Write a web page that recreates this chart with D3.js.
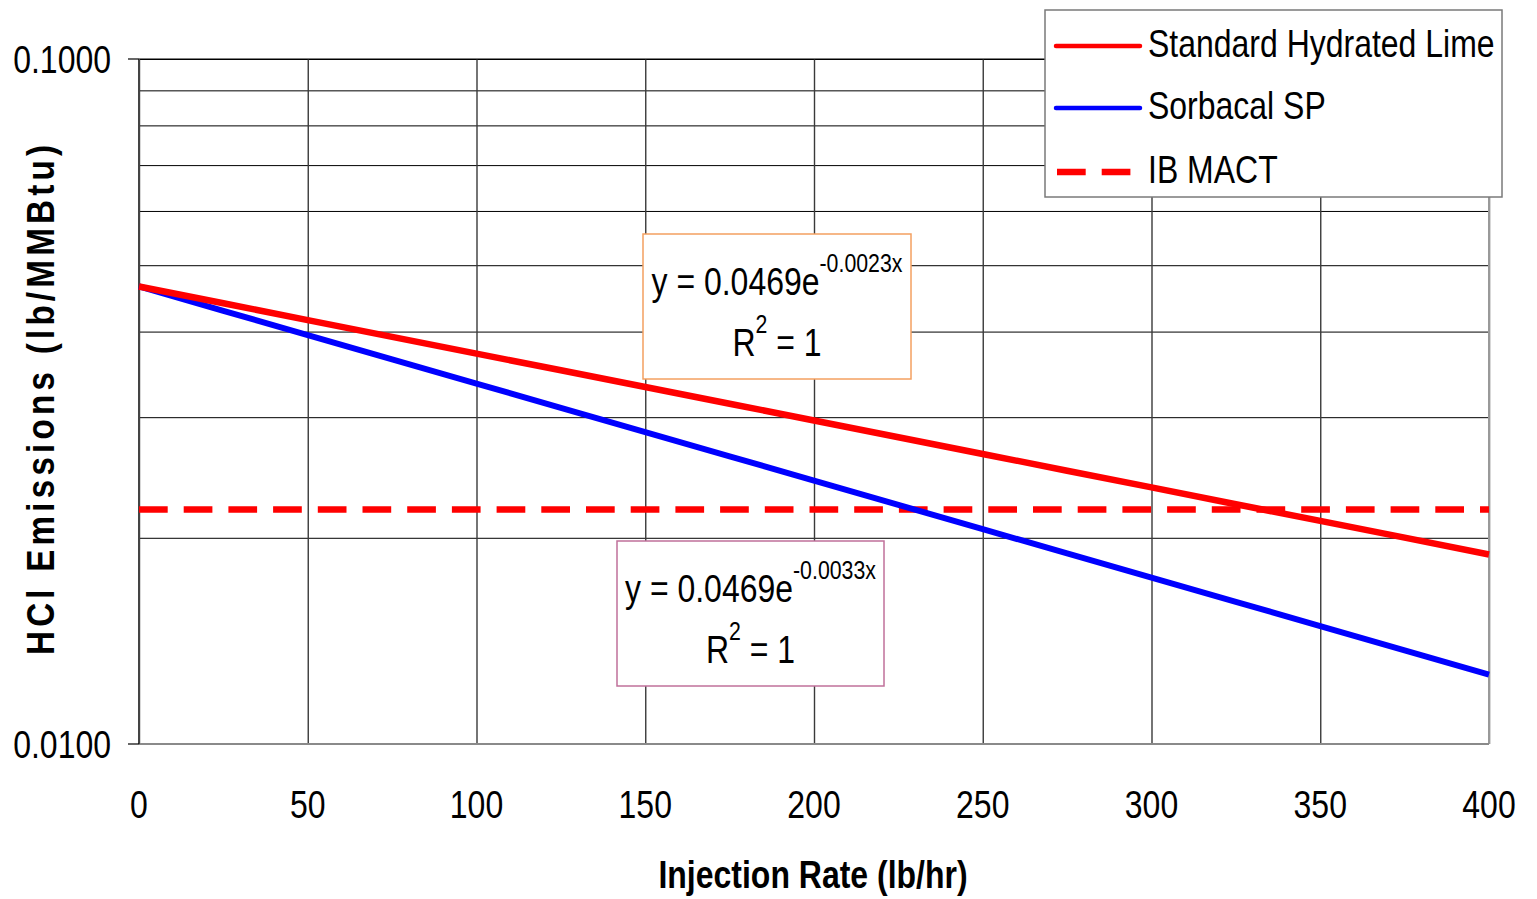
<!DOCTYPE html>
<html>
<head>
<meta charset="utf-8">
<script src="https://cdn.jsdelivr.net/npm/d3@7"></script>
<style>
  body { margin: 0; background: #fff; }
  svg { display: block; font-family: "Liberation Sans", Arial, sans-serif; }
</style>
</head>
<body>
<script>
// --- data ---
const injectionRate = [0, 25, 50, 75, 100, 125, 150, 175, 200, 225, 250, 275, 300, 325, 350, 375, 400];
const hydratedLime = [0.04655, 0.04400, 0.04157, 0.03930, 0.03715, 0.03512, 0.03320, 0.03139, 0.02967,
                      0.02804, 0.02651, 0.02506, 0.02369, 0.02239, 0.02117, 0.02001, 0.01891];
const sorbacalSP = [0.04655, 0.04289, 0.03954, 0.03644, 0.03359, 0.03096, 0.02853, 0.02630, 0.02424,
                    0.02234, 0.02059, 0.01898, 0.01750, 0.01613, 0.01486, 0.01370, 0.01263];
const ibMact = 0.022;
const xTicks = [0, 50, 100, 150, 200, 250, 300, 350, 400];
const yGridValues = [0.01, 0.02, 0.03, 0.04, 0.05, 0.06, 0.07, 0.08, 0.09, 0.1];
const yLabelValues = [0.01, 0.1];
const legendNames = ["Standard Hydrated Lime", "Sorbacal SP", "IB MACT"];

// --- SVG setup ---
const width = 1537, height = 899;
const margin = { top: 59, right: 48, bottom: 155, left: 139 };
const plotW = width - margin.left - margin.right;
const plotH = height - margin.top - margin.bottom;
const narrow = 0.82; // condensed look of the original font
const dash = "28.7,16";

const svg = d3.select("body").append("svg")
  .attr("width", width)
  .attr("height", height);

const plot = svg.append("g")
  .attr("transform", `translate(${margin.left},${margin.top})`);

const x = d3.scaleLinear().domain([0, 400]).range([0, plotW]);
const y = d3.scaleLog().domain([0.01, 0.1]).range([plotH, 0]);

// text with a narrow horizontal scale
function label(parent, px, py, str, size, anchor, weight) {
  return parent.append("g")
    .attr("transform", `translate(${px},${py}) scale(${narrow},1)`)
    .append("text")
    .attr("text-anchor", anchor || "start")
    .attr("font-size", size)
    .attr("font-weight", weight || "normal")
    .attr("fill", "#000")
    .text(str);
}

// gridlines
plot.append("g")
  .call(d3.axisLeft(y).tickValues(yGridValues).tickSize(-plotW).tickFormat(""))
  .call(g => g.select(".domain").remove())
  .call(g => g.selectAll("line").attr("stroke", "#000").attr("stroke-width", 1));

plot.append("g")
  .attr("transform", `translate(0,${plotH})`)
  .call(d3.axisBottom(x).tickValues(xTicks).tickSize(plotH).tickFormat(""))
  .call(g => g.select(".domain").remove())
  .call(g => g.selectAll("line").attr("transform", `translate(0,${-plotH})`)
    .attr("y1", 0).attr("y2", plotH)
    .attr("stroke", "#3a3a3a").attr("stroke-width", 1.4));

// frame
plot.append("line").attr("x1", 0).attr("x2", plotW).attr("y1", 0).attr("y2", 0)
  .attr("stroke", "#000").attr("stroke-width", 1);
plot.append("line").attr("x1", plotW).attr("x2", plotW).attr("y1", 0).attr("y2", plotH)
  .attr("stroke", "#999").attr("stroke-width", 2);
plot.append("line").attr("x1", 0).attr("x2", plotW).attr("y1", plotH).attr("y2", plotH)
  .attr("stroke", "#8a8a8a").attr("stroke-width", 2);
plot.append("line").attr("x1", 0).attr("x2", 0).attr("y1", 0).attr("y2", plotH)
  .attr("stroke", "#444").attr("stroke-width", 2);

// y ticks (only decades)
plot.selectAll(".ytick").data(yLabelValues).enter().append("line")
  .attr("x1", -11).attr("x2", 0)
  .attr("y1", d => y(d)).attr("y2", d => y(d))
  .attr("stroke", "#000").attr("stroke-width", 1.2);

// MACT limit
plot.append("line")
  .attr("x1", x(0)).attr("x2", x(400))
  .attr("y1", y(ibMact)).attr("y2", y(ibMact))
  .attr("stroke", "#ff0000").attr("stroke-width", 6.5)
  .attr("stroke-dasharray", dash);

// series
const line = d3.line().x(d => x(d[0])).y(d => y(d[1]));
plot.append("path")
  .datum(injectionRate.map((r, i) => [r, sorbacalSP[i]]))
  .attr("d", line).attr("fill", "none")
  .attr("stroke", "#0000ff").attr("stroke-width", 6);
plot.append("path")
  .datum(injectionRate.map((r, i) => [r, hydratedLime[i]]))
  .attr("d", line).attr("fill", "none")
  .attr("stroke", "#ff0000").attr("stroke-width", 6.5);

// axis labels
xTicks.forEach(d => label(svg, margin.left + x(d), 818, d, 39, "middle"));
yLabelValues.forEach(d => label(svg, 111, margin.top + y(d) + 14, d.toFixed(4), 39, "end"));

label(svg, 813, 888, "Injection Rate (lb/hr)", 39, "middle", "bold");

svg.append("text")
  .attr("transform", "translate(54,400) rotate(-90) scale(0.85,1)")
  .attr("text-anchor", "middle")
  .attr("font-size", 39)
  .attr("font-weight", "bold")
  .attr("textLength", 600)
  .attr("lengthAdjust", "spacing")
  .text("HCl Emissions (lb/MMBtu)");

// trendline equation boxes
function equationBox(bx, by, bw, bh, color, coef, expo) {
  svg.append("rect")
    .attr("x", bx).attr("y", by).attr("width", bw).attr("height", bh)
    .attr("fill", "#fff").attr("stroke", color).attr("stroke-width", 1.5);
  const cx = bx + bw / 2;
  const t1 = label(svg, cx, by + 61, "", 39, "middle");
  t1.append("tspan").text(`y = ${coef}e`);
  t1.append("tspan").attr("font-size", 26).attr("dy", -23).text(expo);
  const t2 = label(svg, cx, by + 122, "", 39, "middle");
  t2.append("tspan").text("R");
  t2.append("tspan").attr("font-size", 26).attr("dy", -23).text("2");
  t2.append("tspan").attr("dy", 23).text(" = 1");
}
equationBox(643, 234, 268, 145, "#f4a060", "0.0469", "-0.0023x");
equationBox(617, 541, 267, 145, "#c0709a", "0.0469", "-0.0033x");

// legend
const legend = svg.append("g");
legend.append("rect")
  .attr("x", 1045).attr("y", 10).attr("width", 457).attr("height", 187)
  .attr("fill", "#fff").attr("stroke", "#7a7a7a").attr("stroke-width", 1.5);

const legendY = [46, 108, 172];
const legendColor = ["#ff0000", "#0000ff", "#ff0000"];
legendNames.forEach((name, i) => {
  legend.append("line")
    .attr("x1", i === 2 ? 1057 : 1056).attr("x2", 1140)
    .attr("y1", legendY[i]).attr("y2", legendY[i])
    .attr("stroke", legendColor[i])
    .attr("stroke-width", i === 2 ? 6.5 : 4.5)
    .attr("stroke-linecap", i === 2 ? "butt" : "round")
    .attr("stroke-dasharray", i === 2 ? dash : null);
  label(legend, 1148, legendY[i] + 11, name, 39, "start");
});
</script>
</body>
</html>
